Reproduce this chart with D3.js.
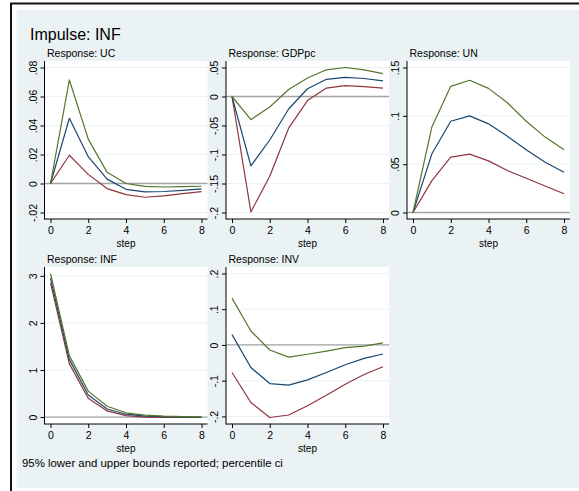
<!DOCTYPE html>
<html>
<head>
<meta charset="utf-8">
<script src="https://cdn.jsdelivr.net/npm/d3@7"></script>
<style>
  html, body { margin: 0; padding: 0; background: #ffffff; }
  svg { display: block; }
  text { font-family: "Liberation Sans", Arial, Helvetica, sans-serif; fill: #000; }
</style>
</head>
<body>
<svg id="chart" width="579" height="491"></svg>
<script>
// Impulse-response functions of INF, with 95% percentile bounds
const steps = [0, 1, 2, 3, 4, 5, 6, 7, 8];
const xTicks = [0, 2, 4, 6, 8];

const ucIrf   = [0, 0.0450, 0.0185, 0.0030, -0.0040, -0.0058, -0.0055, -0.0047, -0.0037];
const ucLower = [0, 0.0195, 0.0063, -0.0035, -0.0077, -0.0095, -0.0085, -0.0070, -0.0056];
const ucUpper = [0, 0.0714, 0.0306, 0.0077, 0.0000, -0.0020, -0.0024, -0.0022, -0.0019];
const ucTicks = [-0.02, 0, 0.02, 0.04, 0.06, 0.08];
const ucTickLabels = ["-.02", "0", ".02", ".04", ".06", ".08"];

const gdpIrf   = [0, -0.1197, -0.0750, -0.0215, 0.0134, 0.0296, 0.0330, 0.0310, 0.0270];
const gdpLower = [0, -0.1990, -0.1376, -0.0546, -0.0070, 0.0145, 0.0186, 0.0170, 0.0145];
const gdpUpper = [0, -0.0400, -0.0180, 0.0120, 0.0320, 0.0460, 0.0500, 0.0460, 0.0395];
const gdpTicks = [-0.2, -0.15, -0.1, -0.05, 0, 0.05];
const gdpTickLabels = ["-.2", "-.15", "-.1", "-.05", "0", ".05"];

const unIrf   = [0, 0.0607, 0.0944, 0.1000, 0.0917, 0.0788, 0.0649, 0.0520, 0.0417];
const unLower = [0, 0.0330, 0.0573, 0.0604, 0.0534, 0.0434, 0.0354, 0.0274, 0.0194];
const unUpper = [0, 0.0885, 0.1305, 0.1368, 0.1284, 0.1135, 0.0944, 0.0780, 0.0649];
const unTicks = [0, 0.05, 0.1, 0.15];
const unTickLabels = ["0", ".05", ".1", ".15"];

const infIrf   = [2.95, 1.22, 0.47, 0.17, 0.06, 0.02, 0.01, 0.000, -0.002];
const infLower = [2.85, 1.13, 0.40, 0.13, 0.03, 0.00, -0.01, -0.010, -0.010];
const infUpper = [3.05, 1.30, 0.55, 0.23, 0.09, 0.04, 0.02, 0.010, 0.005];
const infTicks = [0, 1, 2, 3];
const infTickLabels = ["0", "1", "2", "3"];

const invIrf   = [0.029, -0.063, -0.108, -0.1126, -0.0976, -0.077, -0.0554, -0.0376, -0.0253];
const invLower = [-0.077, -0.161, -0.203, -0.196, -0.170, -0.141, -0.110, -0.0827, -0.061];
const invUpper = [0.131, 0.039, -0.014, -0.034, -0.026, -0.017, -0.0076, -0.003, 0.0056];
const invTicks = [-0.2, -0.1, 0, 0.1, 0.2];
const invTickLabels = ["-.2", "-.1", "0", ".1", ".2"];

const panels = [
  { title: "Response: UC",    col: 0, row: 0, irf: ucIrf,  lower: ucLower,  upper: ucUpper,  ticks: ucTicks,  labels: ucTickLabels },
  { title: "Response: GDPpc", col: 1, row: 0, irf: gdpIrf, lower: gdpLower, upper: gdpUpper, ticks: gdpTicks, labels: gdpTickLabels },
  { title: "Response: UN",    col: 2, row: 0, irf: unIrf,  lower: unLower,  upper: unUpper,  ticks: unTicks,  labels: unTickLabels },
  { title: "Response: INF",   col: 0, row: 1, irf: infIrf, lower: infLower, upper: infUpper, ticks: infTicks, labels: infTickLabels },
  { title: "Response: INV",   col: 1, row: 1, irf: invIrf, lower: invLower, upper: invUpper, ticks: invTicks, labels: invTickLabels }
];

const colors = { irf: "#1a476f", lower: "#90353b", upper: "#55752f" };
const bg = "#eaf2f3";

// panel grid geometry
const colLeft = [44.5, 226, 407];
const plotW = 163;
const rowTop = [61, 267];
const rowBottom = [219, 424];
const pad = 6.5;

const svg = d3.select("#chart");

// outer graph region
svg.append("rect").attr("x", 16.5).attr("y", 10).attr("width", 579 - 16.5).attr("height", 478).attr("fill", bg);
svg.append("line").attr("x1", 11).attr("x2", 11).attr("y1", 3).attr("y2", 491)
  .attr("stroke", "#111").attr("stroke-width", 2);
svg.append("line").attr("x1", 10).attr("x2", 579).attr("y1", 3.5).attr("y2", 3.5)
  .attr("stroke", "#111").attr("stroke-width", 2);

svg.append("text").attr("x", 30).attr("y", 40).attr("font-size", 16).text("Impulse: INF");

svg.append("text").attr("x", 22).attr("y", 467).attr("font-size", 11.4)
  .text("95% lower and upper bounds reported; percentile ci");

panels.forEach(p => {
  const left = colLeft[p.col], right = left + plotW;
  const top = rowTop[p.row], bottom = rowBottom[p.row];

  const x = d3.scaleLinear().domain([0, 8]).range([left + 6, right - 6]);
  const all = p.irf.concat(p.lower, p.upper, p.ticks);
  const y = d3.scaleLinear().domain(d3.extent(all)).range([bottom - pad, top + pad]);

  const g = svg.append("g");

  // white plot region
  g.append("rect").attr("x", left).attr("y", top).attr("width", plotW).attr("height", bottom - top)
    .attr("fill", "#ffffff");

  // horizontal grid at each labelled tick
  g.selectAll("line.grid").data(p.ticks).join("line").attr("class", "grid")
    .attr("x1", left).attr("x2", right)
    .attr("y1", d => y(d)).attr("y2", d => y(d))
    .attr("stroke", bg).attr("stroke-width", 1);

  // zero reference line
  g.append("line").attr("x1", left).attr("x2", right)
    .attr("y1", y(0)).attr("y2", y(0))
    .attr("stroke", "#a3a3a3").attr("stroke-width", 1.3);

  const line = d3.line().x((d, i) => x(steps[i])).y(d => y(d));
  [["lower", p.lower], ["irf", p.irf], ["upper", p.upper]].forEach(([k, vals]) => {
    g.append("path").attr("d", line(vals)).attr("fill", "none")
      .attr("stroke", colors[k]).attr("stroke-width", 1.2).attr("stroke-linejoin", "round");
  });

  // y axis
  const yAxis = d3.axisLeft(y).tickValues(p.ticks).tickFormat((d, i) => p.labels[i])
    .tickSize(4).tickSizeOuter(0);
  const ya = g.append("g").attr("transform", `translate(${left},0)`).call(yAxis);
  ya.select(".domain").remove();
  ya.selectAll(".tick line").attr("stroke", "#000");
  ya.selectAll(".tick text")
    .attr("transform", "rotate(-90)")
    .attr("x", 0).attr("y", -8).attr("dy", 0)
    .attr("text-anchor", "middle")
    .attr("font-size", 10.5)
    .attr("font-family", "Liberation Sans, Arial, sans-serif");
  g.append("line").attr("x1", left).attr("x2", left).attr("y1", top).attr("y2", bottom + 0.5)
    .attr("stroke", "#000").attr("stroke-width", 1);

  // x axis
  const xAxis = d3.axisBottom(x).tickValues(xTicks).tickFormat(d3.format("d"))
    .tickSize(4).tickSizeOuter(0).tickPadding(4);
  const xa = g.append("g").attr("transform", `translate(0,${bottom})`).call(xAxis);
  xa.select(".domain").remove();
  xa.selectAll(".tick line").attr("stroke", "#000");
  xa.selectAll(".tick text").attr("font-size", 10.5)
    .attr("font-family", "Liberation Sans, Arial, sans-serif");
  g.append("line").attr("x1", left).attr("x2", right).attr("y1", bottom).attr("y2", bottom)
    .attr("stroke", "#000").attr("stroke-width", 1);

  g.append("text").attr("x", (left + 6 + right - 6) / 2).attr("y", bottom + 27.5)
    .attr("text-anchor", "middle").attr("font-size", 10).text("step");

  g.append("text").attr("x", left + 2.5).attr("y", top - 4).attr("font-size", 10.5).text(p.title);
});
</script>
</body>
</html>
